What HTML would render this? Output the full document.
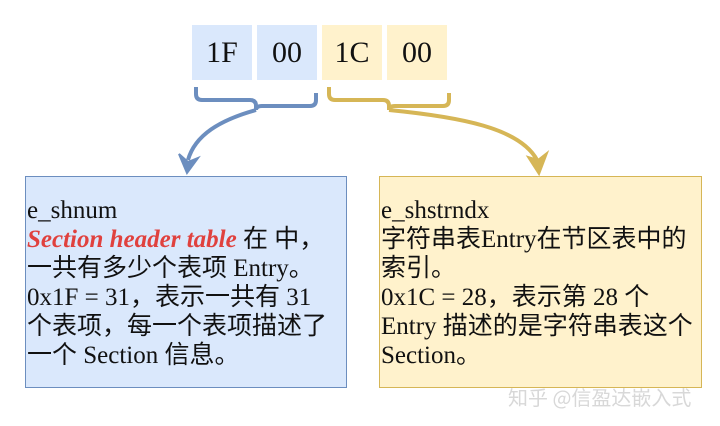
<!DOCTYPE html>
<html><head><meta charset="utf-8"><style>
body{margin:0;width:720px;height:426px;background:#fff;position:relative;overflow:hidden;font-family:"Liberation Serif","Noto Sans CJK SC",serif;}
.c{position:absolute;top:25px;height:55px;width:60px;font-size:30px;line-height:55px;text-align:center;color:#111;}
.b{background:#dae8fc}.y{background:#fff2cc}
.box{position:absolute;top:176px;height:212px;box-sizing:border-box;border:1.5px solid;padding:19px 0 0 1px;font-size:25px;line-height:29px;color:#111;white-space:nowrap;}
.red{color:#e0413e;font-weight:bold;font-style:italic;}
</style></head><body>
<div class="c b" style="left:192px">1F</div>
<div class="c b" style="left:257px">00</div>
<div class="c y" style="left:322px">1C</div>
<div class="c y" style="left:387px">00</div>
<svg width="720" height="426" style="position:absolute;left:0;top:0">
<path d="M196,87 v7 q0,6 6,6 h48 q6,0 6,6 v4 q0,-4 6,-4 h48 q6,0 6,-6 v-7" fill="none" stroke="#6c8ebf" stroke-width="4"/>
<path d="M256,110 C220,120 195,135 188,160" fill="none" stroke="#6c8ebf" stroke-width="4"/>
<path d="M179,154 L187,173 L198,158 L188,162 Z" fill="#6c8ebf" stroke="#6c8ebf" stroke-width="2"/>
<path d="M329,87 v7 q0,6 6,6 h48 q6,0 6,6 v4 q0,-4 6,-4 h48 q6,0 6,-6 v-7" fill="none" stroke="#d6b656" stroke-width="4"/>
<path d="M389,110 C460,117 520,128 537,160" fill="none" stroke="#d6b656" stroke-width="4"/>
<path d="M528,157 L539,174 L547,153 L538,160 Z" fill="#d6b656" stroke="#d6b656" stroke-width="2"/>
</svg>
<div class="box" style="left:25px;width:322px;background:#dae8fc;border-color:#6c8ebf">e_shnum<br><span class="red">Section header table</span> 在 中，<br>一共有多少个表项 Entry。<br>0x1F = 31，表示一共有 31<br>个表项，每一个表项描述了<br>一个 Section 信息。</div>
<div class="box" style="left:379px;width:323px;background:#fff2cc;border-color:#d6b656">e_shstrndx<br>字符串表Entry在节区表中的<br>索引。<br>0x1C = 28，表示第 28 个<br>Entry 描述的是字符串表这个<br>Section。</div>
<div style="position:absolute;left:508px;top:382px;font-family:'Noto Sans CJK SC',sans-serif;font-size:20px;color:#d8d8d8">知乎 @信盈达嵌入式</div>
</body></html>
